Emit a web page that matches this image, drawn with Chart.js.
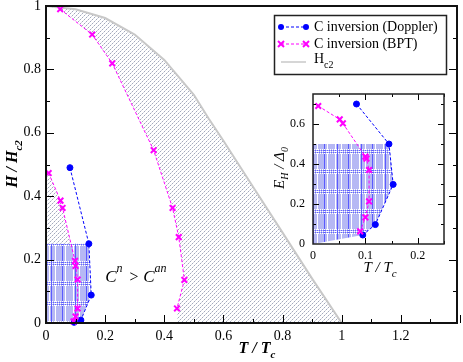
<!DOCTYPE html>
<html>
<head>
<meta charset="utf-8">
<script src="https://cdn.jsdelivr.net/npm/chart.js@4.4.1/dist/chart.umd.min.js"></script>
<style>
  body { margin: 0; background: #fff; }
  #wrap { position: relative; width: 463px; height: 362px; }
  canvas { position: absolute; }
</style>
</head>
<body>
<div id="wrap">
  <canvas id="main" width="463" height="362" style="left:0;top:0"></canvas>
  <canvas id="inset" width="190" height="200" style="left:262px;top:88px"></canvas>
</div>
<script>
// ---- main panel: H/Hc2 vs T/Tc ----
const hc2T = [0, 0.1, 0.2, 0.3, 0.4, 0.5, 0.55, 0.6, 0.7, 0.8, 0.9, 1.0];
const hc2H = [1, 0.99, 0.962, 0.91, 0.83, 0.72, 0.645, 0.575, 0.43, 0.285, 0.14, 0];

// C inversion (BPT), high-temperature branch
const bptRightT = [0.048, 0.156, 0.224, 0.364, 0.428, 0.449, 0.468, 0.443];
const bptRightH = [0.99, 0.91, 0.819, 0.545, 0.363, 0.271, 0.136, 0.046];

// C inversion (BPT), low-temperature branch
const bptLeftT = [0.009, 0.049, 0.056, 0.098, 0.100, 0.107, 0.107, 0.100, 0.093];
const bptLeftH = [0.473, 0.386, 0.363, 0.196, 0.18, 0.137, 0.046, 0.02, 0.005];

// C inversion (Doppler)
const dopT = [0.081, 0.145, 0.153, 0.118, 0.095];
const dopH = [0.49, 0.25, 0.088, 0.009, 0.002];

// ---- inset: E_H/Delta_0 vs T/Tc ----
const insDopT = [0.083, 0.145, 0.153, 0.119, 0.095];
const insDopE = [0.70, 0.50, 0.298, 0.097, 0.045];
const insBptT = [0.010, 0.051, 0.057, 0.100, 0.102, 0.107, 0.107, 0.100, 0.090];
const insBptE = [0.69, 0.623, 0.603, 0.437, 0.427, 0.37, 0.213, 0.133, 0.063];

const BLUE = '#0000ff', MAG = '#ff00ff', GREY = '#c8c8c8';
const serif = '"Liberation Serif", "DejaVu Serif", serif';

const pts = (xs, ys) => xs.map((x, i) => ({ x, y: ys[i] }));

function makeHatch() {
  const c = document.createElement('canvas');
  c.width = 4; c.height = 4;
  const g = c.getContext('2d');
  for (let i = 0; i < 4; i++) {
    g.fillStyle = i % 2 ? '#d4d7e0' : '#a2a8bc';
    g.fillRect(i, 3 - i, 1, 1);
  }
  return g.createPattern(c, 'repeat');
}

function makePlaid() {
  const c = document.createElement('canvas');
  c.width = 24; c.height = 20;
  const g = c.getContext('2d');
  g.fillStyle = '#b6b8f4';
  g.fillRect(0, 0, 24, 20);
  g.fillStyle = '#5a5aff';
  [3, 14].forEach(x => g.fillRect(x, 0, 1, 20));
  g.fillStyle = '#fff';
  [1, 7, 17].forEach(x => g.fillRect(x, 0, 1, 20));
  // band of dotted white rows with blue between
  for (const y of [1, 3, 5]) for (let x = 0; x < 24; x += 2) g.fillRect(x, y, 1, 1);
  g.fillStyle = '#6464ff';
  for (const y of [2, 4]) for (let x = 1; x < 24; x += 2) g.fillRect(x, y, 1, 1);
  return g.createPattern(c, 'repeat');
}

const hatch = makeHatch();
const plaid = makePlaid();

// draw a string made of pieces (for subscripts/superscripts), centred at x
function rich(ctx, parts, x, y, rot) {
  ctx.save();
  ctx.translate(x, y);
  if (rot) ctx.rotate(-Math.PI / 2);
  ctx.textAlign = 'left';
  ctx.textBaseline = 'alphabetic';
  ctx.fillStyle = '#000';
  let w = 0;
  parts.forEach(p => { ctx.font = p.f; w += ctx.measureText(p.t).width; });
  let cx = -w / 2;
  parts.forEach(p => {
    ctx.font = p.f;
    ctx.fillText(p.t, cx, p.dy || 0);
    cx += ctx.measureText(p.t).width;
  });
  ctx.restore();
}

function line(ctx, x1, y1, x2, y2) {
  ctx.beginPath(); ctx.moveTo(x1, y1); ctx.lineTo(x2, y2); ctx.stroke();
}

// inward ticks + frame, drawn with the chart's own scales
function framePlugin(cfg) {
  return {
    id: 'frame',
    afterDatasetsDraw(chart) {
      const { ctx, chartArea: a, scales: { x, y } } = chart;
      ctx.save();
      ctx.strokeStyle = '#000';
      ctx.lineWidth = 1;
      const nx = Math.round(x.max / cfg.xMinor + 1e-6);
      for (let i = 1; i <= nx; i++) {
        const v = i * cfg.xMinor;
        const p = Math.round(x.getPixelForValue(v)) + 0.5;
        const L = (i % cfg.xEvery === 0) ? cfg.major : cfg.minor;
        line(ctx, p, a.bottom, p, a.bottom - L);
        if (cfg.top) line(ctx, p, a.top, p, a.top + L);
      }
      const ny = Math.round(y.max / cfg.yMinor + 1e-6);
      for (let i = 1; i <= ny; i++) {
        const v = i * cfg.yMinor;
        const p = Math.round(y.getPixelForValue(v)) + 0.5;
        const L = (i % cfg.yEvery === 0) ? cfg.major : cfg.minor;
        line(ctx, a.left, p, a.left + L, p);
        line(ctx, a.right, p, a.right - L, p);
      }
      ctx.strokeStyle = cfg.frameColor;
      ctx.lineWidth = cfg.frameWidth;
      ctx.strokeRect(a.left, a.top, a.right - a.left, a.bottom - a.top);
      if (cfg.extra) cfg.extra(ctx, chart);
      ctx.restore();
    }
  };
}

function marker(ctx, style, x, y, color) {
  ctx.save();
  if (style === 'circle') {
    ctx.fillStyle = color;
    ctx.beginPath(); ctx.arc(x, y, 3, 0, Math.PI * 2); ctx.fill();
  } else {
    ctx.strokeStyle = color; ctx.lineWidth = 2;
    line(ctx, x - 3, y - 3, x + 3, y + 3);
    line(ctx, x - 3, y + 3, x + 3, y - 3);
  }
  ctx.restore();
}

function legend(ctx) {
  ctx.save();
  ctx.fillStyle = '#fff';
  ctx.fillRect(274.5, 15.5, 172, 59);
  ctx.strokeStyle = '#222'; ctx.lineWidth = 1.5;
  ctx.strokeRect(274.5, 15.5, 172, 59);
  const rows = [
    { c: BLUE, m: 'circle', y: 27, t: 'C inversion (Doppler)' },
    { c: MAG, m: 'cross', y: 44, t: 'C inversion (BPT)' }
  ];
  rows.forEach(r => {
    ctx.strokeStyle = r.c; ctx.lineWidth = 1; ctx.setLineDash([3, 2]);
    line(ctx, 281, r.y, 306, r.y);
    ctx.setLineDash([]);
    marker(ctx, r.m, 281, r.y, r.c);
    marker(ctx, r.m, 306, r.y, r.c);
    ctx.fillStyle = '#000'; ctx.font = '14px ' + serif;
    ctx.textAlign = 'left'; ctx.textBaseline = 'alphabetic';
    ctx.fillText(r.t, 314, r.y + 4);
  });
  ctx.strokeStyle = GREY; ctx.lineWidth = 1.5;
  line(ctx, 281, 62, 306, 62);
  ctx.fillStyle = '#000';
  ctx.font = '14px ' + serif;
  ctx.fillText('H', 314, 63);
  const hw = ctx.measureText('H').width;
  ctx.font = '10px ' + serif;
  ctx.fillText('c2', 314 + hw, 68);
  ctx.restore();
}

function mainExtra(ctx, chart) {
  const { x, y } = chart.scales;
  // axis titles
  rich(ctx, [
    { t: 'T / T', f: 'bold italic 16px ' + serif },
    { t: 'c', f: 'bold italic 11px ' + serif, dy: 5 }
  ], 257, 353);
  rich(ctx, [
    { t: 'H / H', f: 'bold italic 16px ' + serif },
    { t: 'c2', f: 'bold italic 11px ' + serif, dy: 5 }
  ], 17, 164, true);
  // region label C^n > C^an
  const bx = x.getPixelForValue(0.2), by = y.getPixelForValue(0.13);
  ctx.fillStyle = '#000';
  ctx.textAlign = 'left'; ctx.textBaseline = 'alphabetic';
  let cx = bx;
  [['C', 17, 0], ['n', 12, -10], [' > ', 16, 0], ['C', 17, 0], ['an', 12, -10]].forEach(([t, s, dy]) => {
    ctx.font = 'italic ' + s + 'px ' + serif;
    ctx.fillText(t, cx, by + dy);
    cx += ctx.measureText(t).width + (s === 12 ? 2 : 0);
  });
  legend(ctx);
}

function insetExtra(ctx) {
  rich(ctx, [
    { t: 'T / T', f: 'italic 15px ' + serif },
    { t: 'c', f: 'italic 11px ' + serif, dy: 5 }
  ], 118, 184);
  rich(ctx, [
    { t: 'E', f: 'italic 15px ' + serif },
    { t: 'H', f: 'italic 10px ' + serif, dy: 4 },
    { t: ' / \u0394', f: 'italic 15px ' + serif },
    { t: '0', f: 'italic 10px ' + serif, dy: 4 }
  ], 22, 80, true);
}

function axis(max, step, size, fontSize, pad, horiz) {
  return {
    type: 'linear', min: 0, max,
    grid: { display: false, drawTicks: false },
    border: { display: false },
    ticks: {
      stepSize: step, includeBounds: false, padding: pad, color: '#000',
      font: { family: serif, size: fontSize },
      callback: v => String(+v.toFixed(2))
    },
    afterFit: s => {
      if (horiz) { s.height = size; s.paddingLeft = 0; s.paddingRight = 0; }
      else { s.width = size; s.paddingTop = 0; s.paddingBottom = 0; }
    }
  };
}

const lineDs = (data, color, style, order) => ({
  data, showLine: true, fill: false, order,
  borderColor: color, backgroundColor: color, borderWidth: 1, borderDash: [3, 2],
  pointStyle: style, pointRadius: style === 'circle' ? 3 : 4,
  pointBorderWidth: style === 'circle' ? 1 : 2,
  pointBackgroundColor: color, pointBorderColor: color, clip: 6
});

const shapeDs = (data, bg, order) => ({
  data, showLine: true, fill: 'shape', order,
  backgroundColor: bg, borderColor: 'transparent', borderWidth: 0, pointRadius: 0
});

// regions
const bptRightPts = pts(bptRightT, bptRightH);
const hc2Pts = pts(hc2T, hc2H);
const hatchRight = [...bptRightPts, { x: bptRightT[bptRightT.length - 1], y: 0 }, ...hc2Pts.slice().reverse()];
const bptLeftPts = pts(bptLeftT, bptLeftH);
const leftTop = bptLeftPts.slice(0, 4);
const hatchLeft = [{ x: 0, y: bptLeftH[0] }, ...leftTop, { x: 0, y: leftTop[3].y }];
const dopPts = pts(dopT, dopH);
const boxMain = [{ x: 0, y: dopH[1] }, ...dopPts.slice(1), { x: 0, y: 0 }];

const common = {
  responsive: false, animation: false, events: [],
  plugins: { legend: { display: false }, tooltip: { enabled: false } }
};

new Chart(document.getElementById('main'), {
  type: 'scatter',
  data: {
    datasets: [
      shapeDs(hatchRight, hatch, 10),
      shapeDs(hatchLeft, hatch, 10),
      shapeDs(boxMain, plaid, 9),
      { data: hc2Pts, showLine: true, fill: false, order: 5, borderColor: GREY, borderWidth: 2, pointRadius: 0 },
      lineDs(bptRightPts, MAG, 'crossRot', 1),
      lineDs(bptLeftPts, MAG, 'crossRot', 1),
      lineDs(dopPts, BLUE, 'circle', 2)
    ]
  },
  options: {
    ...common,
    layout: { padding: { top: 6, right: 1, left: 0, bottom: 0 } },
    scales: {
      x: axis(1.39, 0.2, 39, 14, 5, true),
      y: axis(1, 0.2, 46, 14, 5, false)
    }
  },
  plugins: [framePlugin({
    xMinor: 0.1, xEvery: 2, yMinor: 0.1, yEvery: 2, major: 8, minor: 4,
    top: false, frameColor: '#111', frameWidth: 2, extra: mainExtra
  })]
});

const insDopPts = pts(insDopT, insDopE);
const boxInset = [{ x: 0, y: insDopE[1] }, ...insDopPts.slice(1), { x: 0, y: 0 }];

new Chart(document.getElementById('inset'), {
  type: 'scatter',
  data: {
    datasets: [
      shapeDs(boxInset, plaid, 9),
      lineDs(pts(insBptT, insBptE), MAG, 'crossRot', 1),
      lineDs(insDopPts, BLUE, 'circle', 2)
    ]
  },
  options: {
    ...common,
    layout: { padding: { top: 5, right: 8, left: 0, bottom: 0 } },
    scales: {
      x: axis(0.25, 0.1, 44, 12, 5, true),
      y: axis(0.75, 0.2, 51, 12, 8, false)
    }
  },
  plugins: [framePlugin({
    xMinor: 0.05, xEvery: 2, yMinor: 0.1, yEvery: 2, major: 6, minor: 3,
    top: true, frameColor: '#222', frameWidth: 1.5, extra: insetExtra
  })]
});
</script>
</body>
</html>
